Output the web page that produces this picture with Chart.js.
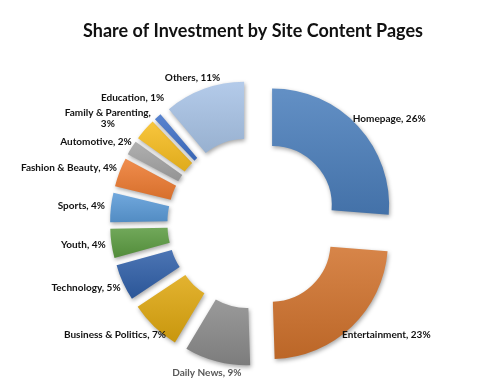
<!DOCTYPE html>
<html lang="en">
<head>
<meta charset="UTF-8">
<title>Share of Investment by Site Content Pages</title>
<script src="https://cdn.jsdelivr.net/npm/chart.js"></script>
<style>
  html, body { margin: 0; padding: 0; background: #fff; }
  .chart-container { width: 500px; height: 380px; position: relative; }
</style>
</head>
<body>
<div class="chart-container"><canvas id="investChart"></canvas></div>
<script>
// data, clockwise from 12 o'clock
const categories = ['Homepage', 'Entertainment', 'Daily News', 'Business & Politics', 'Technology',
  'Youth', 'Sports', 'Fashion & Beauty', 'Automotive', 'Family & Parenting', 'Education', 'Others'];
const shares = [26, 23, 9, 7, 5, 4, 4, 4, 2, 3, 1, 11];

const sliceColors = ['#4a7ebb', '#d0712b', '#8a8a8a', '#dea70e', '#2f5ea8', '#5a9a3f',
  '#5a9ad8', '#ee7a30', '#a3a3a3', '#f7bd1e', '#3e70c8', '#a8c3e6'];
const labelColors = ['#111', '#111', '#595959', '#111', '#111', '#111',
  '#111', '#111', '#111', '#111', '#111', '#111'];

const EXPLODE = 26;   // px each slice is pulled out
const LABEL_FONT = 'bold 10px Lato';

function shade(hex, amt) {
  const n = parseInt(hex.slice(1), 16);
  let r = n >> 16, g = (n >> 8) & 255, b = n & 255;
  const t = amt < 0 ? 0 : 255, p = Math.abs(amt);
  r = Math.round(r + (t - r) * p);
  g = Math.round(g + (t - g) * p);
  b = Math.round(b + (t - b) * p);
  return `rgb(${r},${g},${b})`;
}

const explodePlugin = {
  id: 'explode',
  afterDatasetUpdate(chart, args) {
    args.meta.data.forEach(arc => {
      const mid = (arc.startAngle + arc.endAngle) / 2;
      arc.x += Math.cos(mid) * EXPLODE;
      arc.y += Math.sin(mid) * EXPLODE;
    });
  },
  beforeDatasetsDraw(chart) {
    const ctx = chart.ctx;
    const meta = chart.getDatasetMeta(0);
    meta.data.forEach((arc, i) => {
      // vertical extent of the slice, for a top-light gradient
      let top = Infinity, bottom = -Infinity;
      for (let k = 0; k <= 20; k++) {
        const a = arc.startAngle + (arc.endAngle - arc.startAngle) * k / 20;
        [arc.innerRadius, arc.outerRadius].forEach(r => {
          const y = arc.y + Math.sin(a) * r;
          top = Math.min(top, y);
          bottom = Math.max(bottom, y);
        });
      }
      const grad = ctx.createLinearGradient(0, top, 0, bottom + 1);
      grad.addColorStop(0, shade(sliceColors[i], 0.14));
      grad.addColorStop(1, shade(sliceColors[i], -0.1));
      arc.options = Object.assign({}, arc.options, { backgroundColor: grad });
    });
    ctx.save();
    ctx.shadowColor = 'rgba(0,0,0,0.35)';
    ctx.shadowBlur = 4;
    ctx.shadowOffsetX = 1;
    ctx.shadowOffsetY = 2;
  },
  afterDatasetsDraw(chart) {
    const ctx = chart.ctx;
    ctx.restore();
    const meta = chart.getDatasetMeta(0);
    ctx.save();
    ctx.font = LABEL_FONT;
    ctx.textAlign = 'center';
    ctx.textBaseline = 'middle';
    const lineH = 11;
    const boxes = meta.data.map((arc, i) => {
      const mid = (arc.startAngle + arc.endAngle) / 2;
      const cos = Math.cos(mid), sin = Math.sin(mid);
      let lines = [categories[i] + ', ' + shares[i] + '%'];
      if (ctx.measureText(lines[0]).width > 80 && sin < -0.6) {
        lines = [categories[i] + ',', shares[i] + '%'];
      }
      const w = Math.max(...lines.map(l => ctx.measureText(l).width));
      const h = lines.length * lineH;
      const d = arc.outerRadius + 6;
      return { i, lines, w, h, cos,
        x: arc.x + cos * d + cos * w / 2,
        y: arc.y + sin * d + sin * h / 2 };
    });
    // keep left-side labels from overlapping: walk upward and push apart
    const left = boxes.filter(b => b.cos < -0.2).sort((a, b) => b.y - a.y);
    for (let k = 1; k < left.length; k++) {
      const below = left[k - 1], cur = left[k];
      const minGap = below.h / 2 + cur.h / 2 + 4;
      if (below.y - cur.y < minGap) cur.y = below.y - minGap;
    }
    boxes.forEach(b => {
      const x = Math.min(Math.max(b.x, b.w / 2 + 2), chart.width - b.w / 2 - 2);
      const y = Math.min(Math.max(b.y, b.h / 2 + 2), chart.height - b.h / 2 - 2);
      ctx.fillStyle = labelColors[b.i];
      b.lines.forEach((l, k) => {
        ctx.fillText(l, x, y - b.h / 2 + lineH / 2 + k * lineH);
      });
    });
    ctx.restore();
  }
};

const ctx = document.getElementById('investChart').getContext('2d');
new Chart(ctx, {
  type: 'doughnut',
  data: {
    labels: categories,
    datasets: [{
      data: shares,
      backgroundColor: sliceColors,
      borderWidth: 0,
      clip: false
    }]
  },
  options: {
    responsive: true,
    maintainAspectRatio: false,
    animation: false,
    events: [],
    radius: 117,
    cutout: '51%',
    layout: { padding: { top: 20, bottom: 0, left: 6, right: 0 } },
    plugins: {
      legend: { display: false },
      tooltip: { enabled: false },
      title: {
        display: true,
        text: 'Share of Investment by Site Content Pages',
        color: '#111',
        font: { family: 'Lato', size: 18, weight: 'bold' },
        padding: { top: 0, bottom: 24.8 }
      }
    }
  },
  plugins: [explodePlugin]
});
</script>
</body>
</html>
